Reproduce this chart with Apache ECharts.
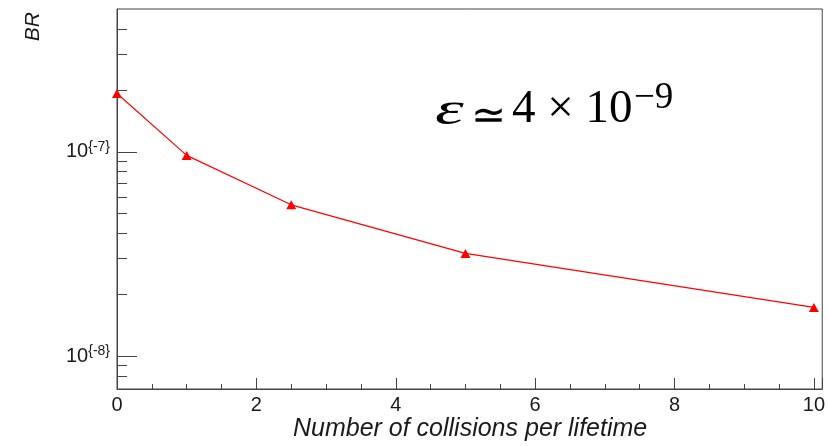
<!DOCTYPE html>
<html>
<head>
<meta charset="utf-8">
<script src="https://cdn.jsdelivr.net/npm/echarts@6/dist/echarts.min.js"></script>
<style>
  html, body { margin: 0; padding: 0; background: #fff; }
  #chart { width: 828px; height: 446px; }
</style>
</head>
<body>
<div id="chart"></div>
<script>
// Collisions per lifetime vs. branching ratio
const collisions = [0, 1, 2.5, 5, 10];
const branchingRatio = [1.93e-7, 9.6e-8, 5.5e-8, 3.18e-8, 1.73e-8];

// Axis ticks
const xTickLabels = [0, 2, 4, 6, 8, 10];
const yMajorTicks = [1e-8, 1e-7];
const yMinorTicks = [8e-9, 9e-9, 2e-8, 3e-8, 4e-8, 5e-8, 6e-8, 7e-8, 8e-8, 9e-8, 2e-7, 3e-7, 4e-7];

const chart = echarts.init(document.getElementById('chart'));

const axisColor = '#444';
const textColor = '#1a1a1a';
const sans = 'Liberation Sans, Arial, sans-serif';
const serif = 'Liberation Serif, Times New Roman, serif';

chart.setOption({
  animation: false,
  backgroundColor: '#fff',
  grid: {
    left: 117, top: 9, width: 706, height: 380,
    show: true, borderColor: axisColor, borderWidth: 1,
    backgroundColor: 'transparent'
  },
  xAxis: {
    type: 'value',
    min: 0, max: 10.12,
    interval: 2,
    axisLine: { lineStyle: { color: axisColor, width: 1 } },
    axisTick: { inside: true, length: 11, lineStyle: { color: axisColor } },
    minorTick: { show: true, splitNumber: 4, length: 5, lineStyle: { color: axisColor } },
    splitLine: { show: false },
    axisLabel: {
      margin: 6,
      fontFamily: sans, fontSize: 20, color: textColor,
      formatter: function (v) {
        return xTickLabels.indexOf(Math.round(v * 1000) / 1000) >= 0 ? String(v) : '';
      }
    },
    name: 'Number of collisions per lifetime',
    nameLocation: 'end',
    nameGap: -175,
    nameTextStyle: {
      fontFamily: sans, fontSize: 25, fontStyle: 'italic', color: textColor,
      align: 'right', verticalAlign: 'top', padding: [28, 0, 0, 0]
    }
  },
  yAxis: [
    {
      type: 'log',
      min: 6.9e-9, max: 5e-7,
      axisLine: { lineStyle: { color: axisColor, width: 1 } },
      axisTick: { inside: true, length: 20, customValues: yMajorTicks, lineStyle: { color: axisColor } },
      splitLine: { show: false },
      axisLabel: {
        customValues: yMajorTicks,
        margin: 7,
        fontFamily: sans, fontSize: 14, color: textColor,
        padding: [0, 0, 10, 0],
        formatter: function (v) {
          return '{b|10}{' + Math.round(Math.log10(v)) + '}';
        },
        rich: {
          b: { fontFamily: sans, fontSize: 20, color: textColor, padding: [10, 0, 0, 0] }
        }
      },
      name: 'BR',
      nameLocation: 'end',
      nameRotate: 90,
      nameGap: -3,
      nameTextStyle: {
        fontFamily: sans, fontSize: 21, fontStyle: 'italic', color: textColor,
        align: 'right', verticalAlign: 'bottom', padding: [0, 0, 73, 0]
      }
    },
    {
      type: 'log',
      min: 6.9e-9, max: 5e-7,
      position: 'left',
      axisLine: { show: false },
      axisTick: { inside: true, length: 10, customValues: yMinorTicks, lineStyle: { color: axisColor } },
      axisLabel: { show: false },
      splitLine: { show: false }
    }
  ],
  graphic: [
    {
      type: 'text', left: 435, top: 88, scaleX: 1.55,
      style: { text: 'ε', fontFamily: serif, fontStyle: 'italic', fontSize: 47, fill: '#000' }
    },
    {
      type: 'text', left: 471, top: 97,
      style: { text: '≃', fontFamily: 'DejaVu Sans, sans-serif', fontWeight: 'lighter', fontSize: 42, fill: '#000' }
    },
    {
      type: 'text', left: 512, top: 86,
      style: { text: '4 × 10', fontFamily: serif, fontSize: 47, fill: '#000' }
    },
    {
      type: 'text', left: 634, top: 80,
      style: { text: '−9', fontFamily: serif, fontSize: 37, fill: '#000' }
    }
  ],
  series: [
    {
      type: 'line',
      data: collisions.map((x, i) => [x, branchingRatio[i]]),
      symbol: 'triangle',
      symbolSize: [10, 9],
      lineStyle: { color: '#ff0000', width: 1.2 },
      itemStyle: { color: '#ff0000' },
      clip: false
    }
  ]
});
</script>
</body>
</html>
